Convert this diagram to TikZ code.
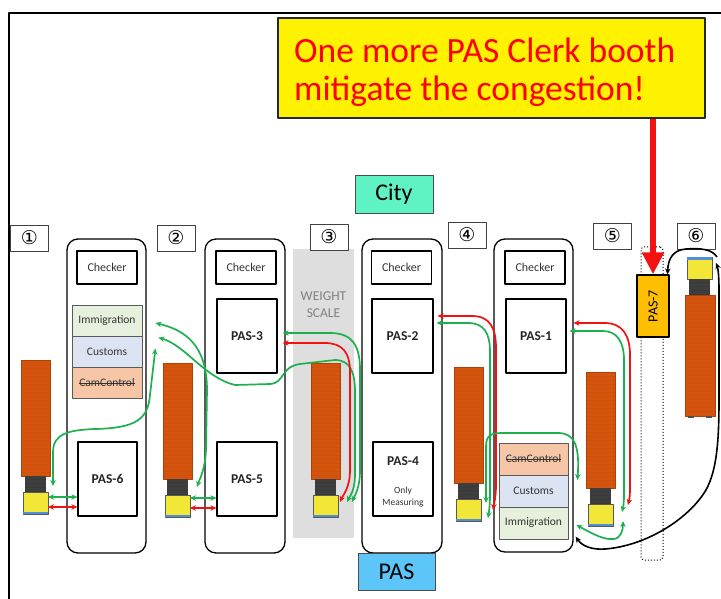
\documentclass[tikz,border=0pt]{standalone}
\usepackage{fontspec}
\setmainfont{Carlito}
\newfontfamily\circfont{DejaVu Sans}
\usetikzlibrary{arrows.meta,calc}

% struck-through text
\newcommand\strk[1]{\setbox0\hbox{#1}\rlap{\rule[0.28em]{\wd0}{0.7pt}}\box0}

\definecolor{arrgreen}{HTML}{1DB04F}
\definecolor{arrred}{HTML}{F21212}
\definecolor{immfill}{HTML}{E6F0DC}
\definecolor{cusfill}{HTML}{DCE4F3}
\definecolor{camfill}{HTML}{F7C6A6}
\definecolor{trailer}{HTML}{D4540E}
\definecolor{trailerline}{HTML}{B04006}
\definecolor{couplgray}{HTML}{3E3E3E}
\definecolor{cabyellow}{HTML}{F2E636}
\definecolor{cabblue}{HTML}{4D8FD8}
\definecolor{cityfill}{HTML}{5EF2C4}
\definecolor{pasfill}{HTML}{5BC6F7}
\definecolor{pasSevenfill}{HTML}{FFBF00}
\definecolor{scalegray}{HTML}{DEDEDE}
\definecolor{textgray}{HTML}{333333}

\tikzset{
  boothframe/.style={draw, line width=1.3pt, rounded corners=11pt, inner sep=0pt},
  plainbox/.style={draw, line width=1.2pt, fill=white, inner sep=0pt,
    font=\fontsize{12}{14}\selectfont, text=textgray},
  checkerbox/.style={plainbox, minimum width=60pt, minimum height=33pt},
  pasbox/.style={plainbox, minimum width=60pt, minimum height=74pt,
    font=\bfseries\fontsize{13.5}{15}\selectfont, text=black!85},
  stackbox/.style={draw=black!65, line width=0.8pt, inner sep=0pt,
    minimum width=70pt, minimum height=31pt,
    font=\fontsize{11.5}{13}\selectfont, text=textgray},
  numbox/.style={draw=black!75, line width=0.8pt, fill=white, inner sep=0pt,
    minimum width=38pt, minimum height=26pt, font=\circfont\fontsize{19}{21}\selectfont},
  tag/.style={draw=black!70, line width=0.8pt, inner sep=0pt, font=\fontsize{24}{26}\selectfont},
  garrow/.style={draw=arrgreen, line width=1.7pt, {Stealth[length=6pt,width=5.5pt]}-{Stealth[length=6pt,width=5.5pt]}},
  rarrow/.style={draw=arrred, line width=1.7pt, {Stealth[length=6pt,width=5.5pt]}-{Stealth[length=6pt,width=5.5pt]}},
  karrow/.style={draw=black, line width=1.6pt},
  % truck seen from above, cab at the bottom
  truckdown/.pic={
    \fill[trailer] (0,0) rectangle (29,116);
    \foreach \k in {1,...,28} \draw[trailerline, line width=0.3pt, opacity=0.18] (0,4*\k) -- (29,4*\k);
    \draw[trailerline, line width=0.6pt] (0,0) rectangle (29,116);
    \fill[couplgray] (4,116) rectangle (25,132);
    \foreach \k in {0,...,3} \draw[gray!45!black, line width=0.6pt] (4,119.5+4*\k) -- (25,119.5+4*\k);
    \draw[fill=cabyellow, draw=gray!70!black, line width=0.6pt] (2,132) rectangle (27,154);
    \fill[cabblue] (2,151.5) rectangle (27,154);
  },
  % truck seen from above, cab at the top
  truckup/.pic={
    \draw[fill=cabyellow, draw=gray!70!black, line width=0.6pt] (2,0) rectangle (27,22);
    \fill[cabblue] (2,0) rectangle (27,2.5);
    \fill[couplgray] (4,22) rectangle (25,38);
    \foreach \k in {0,...,3} \draw[gray!45!black, line width=0.6pt] (4,25.5+4*\k) -- (25,25.5+4*\k);
    \fill[trailer] (0,38) rectangle (30,159);
    \foreach \k in {1,...,29} \draw[trailerline, line width=0.3pt, opacity=0.18] (0,38+4*\k) -- (30,38+4*\k);
    \draw[trailerline, line width=0.6pt] (0,38) rectangle (30,159);
    \fill[black!70] (3,159) rectangle (9,161);
    \fill[black!70] (21,159) rectangle (27,161);
  },
}

\begin{document}
\begin{tikzpicture}[x=1pt, y=-1pt, line join=round]
\useasboundingbox (0,0) rectangle (721,599);
\fill[white] (0,0) rectangle (721,599);

% outer frame
\draw[line width=2pt] (721,13) -- (9,13) -- (9,599);

% weight scale area
\node[fill=scalegray, minimum width=61pt, minimum height=289pt, inner sep=0pt] (scale) at (323.5,393.5) {};
\node[align=center, text=gray, font=\fontsize{13.5}{17}\selectfont, inner sep=0pt] (scaletext) at (323.5,305) {WEIGHT\\SCALE};

% booths
\node[boothframe, minimum width=79pt, minimum height=314pt] (b1) at (106.5,396) {};
\node[boothframe, minimum width=80pt, minimum height=314pt] (b2) at (245,396) {};
\node[boothframe, minimum width=80pt, minimum height=314pt] (b3) at (402,396) {};
\node[boothframe, minimum width=79pt, minimum height=313pt] (b4) at (533.5,395.5) {};

% booth 1
\node[checkerbox] (chk1) at (107,267.5) {Checker};
\node[stackbox, fill=immfill] (imm1) at (107,320.5) {Immigration};
\node[stackbox, fill=cusfill] (cus1) at (107,351.5) {Customs};
\node[stackbox, fill=camfill] (cam1) at (107,382.5) {\strk{CamControl}};
\node[pasbox, minimum width=59pt] (pas6) at (107.5,479) {PAS-6};

% booth 2
\node[checkerbox] (chk2) at (246,267.5) {Checker};
\node[pasbox] (pas3) at (247,336) {PAS-3};
\node[pasbox] (pas5) at (247,479) {PAS-5};

% booth 3
\node[checkerbox] (chk3) at (401.5,267.5) {Checker};
\node[pasbox, minimum width=61pt] (pas2) at (402.5,336) {PAS-2};
\node[pasbox] (pas4) at (403,479) {};
\node[font=\bfseries\fontsize{13.5}{15}\selectfont, text=black!85, inner sep=0pt] (pas4title) at (403,461) {PAS-4};
\node[align=center, font=\fontsize{9.5}{11.5}\selectfont, text=textgray, inner sep=0pt] (pas4note) at (403,497) {Only\\Measuring};

% booth 4
\node[checkerbox] (chk4) at (535,267.5) {Checker};
\node[pasbox] (pas1) at (536,336) {PAS-1};
\node[stackbox, fill=camfill, minimum width=69pt, minimum height=32pt] (cam4) at (533.5,459) {\strk{CamControl}};
\node[stackbox, fill=cusfill, minimum width=69pt, minimum height=32pt] (cus4) at (533.5,491) {Customs};
\node[stackbox, fill=immfill, minimum width=69pt, minimum height=32pt] (imm4) at (533.5,523) {Immigration};

% new booth
\node[draw, dotted, line width=1pt, rounded corners=3pt, minimum width=22pt, minimum height=313pt, inner sep=0pt] (lane7) at (652,403.5) {};
\node[draw, line width=1.2pt, fill=pasSevenfill, minimum width=32pt, minimum height=62pt, inner sep=0pt] (pas7) at (653,306) {};
\node[rotate=90, font=\fontsize{14}{16}\selectfont, inner sep=0pt] (pas7text) at (pas7.center) {PAS-7};

% lane numbers
\node[numbox] (n1) at (29.5,238) {①};
\node[numbox] (n2) at (176,238) {②};
\node[numbox] (n3) at (329,237) {③};
\node[numbox] (n4) at (467,235) {④};
\node[numbox] (n5) at (612.5,236) {⑤};
\node[numbox] (n6) at (696,236) {⑥};

% city / PAS tags
\node[tag, fill=cityfill, minimum width=78pt, minimum height=38pt] (city) at (394,194) {City};
\node[tag, fill=pasfill, minimum width=77pt, minimum height=37pt] (pastag) at (396.5,571.5) {PAS};

% trucks
\pic at (21,360) {truckdown};
\pic at (163,363) {truckdown};
\pic at (311,363) {truckdown};
\pic at (454,367) {truckdown};
\pic at (586,372) {truckdown};
\pic at (685,257) {truckup};

% callout
\node[draw=black!85, line width=1.3pt, fill=yellow, minimum width=427pt, minimum height=100pt, inner sep=0pt] (callout) at (491.5,68) {};
\node[anchor=base west, text=red, font=\fontsize{35.5}{38}\selectfont, inner sep=0pt] (calloutA) at (294,63) {One more PAS Clerk booth};
\node[anchor=base west, text=red, font=\fontsize{35.5}{38}\selectfont, inner sep=0pt] (calloutB) at (294,101) {mitigate the congestion!};
\draw[arrred, line width=6pt, -{Triangle[length=22pt,width=21pt]}] (pas7.north |- callout.south) -- (pas7.north);

% truck-side connector ends
\coordinate (t1g) at (48,497);
\coordinate (t1r) at (48,507);
\coordinate (t1up) at (53,486);
\coordinate (t2g) at (190,498);
\coordinate (t2r) at (190,508);
\coordinate (t2up) at (197,487);
\coordinate (t3a) at (340,502);
\coordinate (t3b) at (347,502);
\coordinate (t3c) at (352,502);
\coordinate (t4a) at (486,503);
\coordinate (t4b) at (488,518);
\coordinate (t4c) at (493,510);
\coordinate (t5a) at (628,505);
\coordinate (t5b) at (622,512);
\coordinate (t5c) at (623,521);
\coordinate (t6a) at (716,263);
\coordinate (t6b) at (717,257);

% lane 1
\draw[garrow] (t1g) -- (pas6.west |- t1g);
\draw[rarrow] (t1r) -- (pas6.west |- t1r);
\draw[garrow] (t1up) -- (53,452) .. controls (53,433) and (70,430) .. (95,429)
  .. controls (135,428) and (148,420) .. (150,395) -- ($(cus1.east)+(13,-3)$);

% lane 2
\draw[garrow] (t2g) -- (pas5.west |- t2g);
\draw[rarrow] (t2r) -- (pas5.west |- t2r);
\draw[garrow] ($(imm1.east)+(13,2.5)$) .. controls (185,330) and (207,345) .. (207,390)
  -- (206,450) .. controls (205,470) and (200,478) .. (t2up);

% lane 3
\draw[garrow] ($(cus1.north east)+(16,2)$) .. controls (185,345) and (205,378) .. (235,385)
  -- (270,384) .. controls (285,383) and (280,367) .. (300,364) -- (335,360)
  .. controls (350,360) and (355,372) .. (355,392) -- (355,475)
  .. controls (355,490) and (350,496) .. (t3b);
\draw[garrow] ($(pas3.east)+(5,-3)$) -- (330,333) .. controls (352,333) and (360,345) .. (360,370)
  -- (360,470) .. controls (360,488) and (355,495) .. (t3c);
\draw[rarrow] ($(pas3.east)+(5,7)$) -- (325,343) .. controls (342,343) and (350,352) .. (350,372)
  -- (350,470) .. controls (350,488) and (343,495) .. (t3a);

% lane 4
\draw[rarrow] ($(pas2.east)+(4,-20)$) -- (472,316) .. controls (490,316) and (496,328) .. (496,348)
  -- (496,485) .. controls (496,497) and (494,504) .. (t4c);
\draw[garrow] ($(pas2.east)+(3,-13)$) -- (468,323) .. controls (484,323) and (490,333) .. (490,352)
  -- (490,495) .. controls (490,505) and (489,512) .. (t4b);
\draw[garrow] (t4a) -- (486,447) .. controls (486,436) and (490,433) .. (502,433)
  -- (558,433) .. controls (574,433) and (580,445) .. ($(cus4.east)+(9,-11)$);

% lane 5
\draw[rarrow] ($(pas1.east)+(7,-13)$) -- (605,323) .. controls (622,323) and (630,335) .. (630,355)
  -- (630,490) .. controls (630,497) and (629,501) .. (t5a);
\draw[garrow] ($(pas1.east)+(3,-5)$) -- (603,331) .. controls (617,331) and (624,342) .. (624,360)
  -- (624,495) .. controls (624,503) and (623,508) .. (t5b);
\draw[garrow] ($(imm4.east)+(8,2)$) .. controls (595,535) and (604,540) .. (614,539)
  .. controls (621,538) and (623,530) .. (t5c);

% lane 6 to the new booth
\draw[karrow, {Stealth[length=6pt,width=5.5pt]}-{Stealth[length=6pt,width=5.5pt]}]
  ($(b4.south east)+(2,-16)$) .. controls (582,546) and (592,550) .. (605,549)
  .. controls (645,546) and (688,520) .. (706,490) .. controls (717,470) and (719,440) .. (719,400)
  -- (719,290) .. controls (719,276) and (718,268) .. (t6a);
\draw[karrow, -{Stealth[length=6pt,width=5.5pt]}]
  (t6b) .. controls (712,249) and (700,248) .. (686,249)
  .. controls (672,250) and (668,260) .. ($(pas7.north east)+(-2,0)$);
\end{tikzpicture}
\end{document}
